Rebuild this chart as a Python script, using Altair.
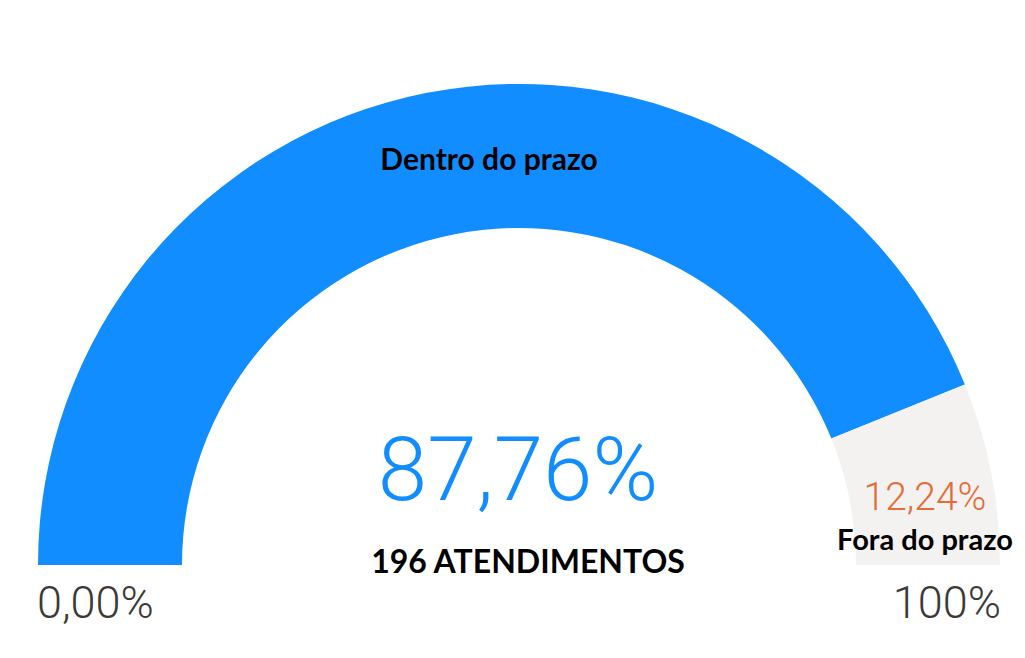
import math
import altair as alt
import pandas as pd

# ---- data ----
categories = ["Dentro do prazo", "Fora do prazo"]
shares = [87.76, 12.24]
colors = ["#118dff", "#f3f2f1"]
total_atendimentos = 196
gauge_min_label = "0,00%"
gauge_max_label = "100%"


def pct(v):
    return f"{v:.2f}".replace(".", ",") + "%"


arc_df = pd.DataFrame({"categoria": categories, "valor": shares, "ordem": [0, 1]})

CX, CY = 511, 557
R_OUT, R_IN = 481, 337

arcs = alt.Chart(arc_df).mark_arc(radius=R_OUT, radius2=R_IN, stroke=None).encode(
    theta=alt.Theta("valor:Q", stack=True,
                    scale=alt.Scale(domain=[0, 100], range=[-math.pi / 2, math.pi / 2])),
    color=alt.Color("categoria:N", scale=alt.Scale(domain=categories, range=colors), legend=None),
    order=alt.Order("ordem:Q"),
    x=alt.value(CX),
    y=alt.value(CY),
)


def label(text, x, y, size, color, font, weight, align="center"):
    return alt.Chart(pd.DataFrame({"t": [text]})).mark_text(
        font=font, fontSize=size, fontWeight=weight, color=color,
        align=align, baseline="alphabetic",
    ).encode(text="t:N", x=alt.value(x), y=alt.value(y))


layers = [
    arcs,
    label(pct(shares[0]), 510, 492, 89, "#118dff", "Roboto", 300),
    label(f"{total_atendimentos} ATENDIMENTOS", 520, 565, 32, "#000000", "Lato", "bold"),
    label(categories[0], 481, 162, 30, "#000000", "Lato", "bold"),
    label(categories[1], 917, 542, 29, "#000000", "Lato", "bold"),
    label(pct(shares[1]), 917, 502, 39, "#e66c37", "Roboto", 300),
    label(gauge_min_label, 29, 610, 45, "#3b3a39", "Roboto", 300, align="left"),
    label(gauge_max_label, 993, 610, 45, "#3b3a39", "Roboto", 300, align="right"),
]

chart = alt.layer(*layers).properties(
    width=1009, height=642, padding=0, autosize=alt.AutoSizeParams(type="none"),
    background="#ffffff",
).configure_view(stroke=None)

chart.save("out.html", embed_options={"renderer": "svg", "actions": False})
